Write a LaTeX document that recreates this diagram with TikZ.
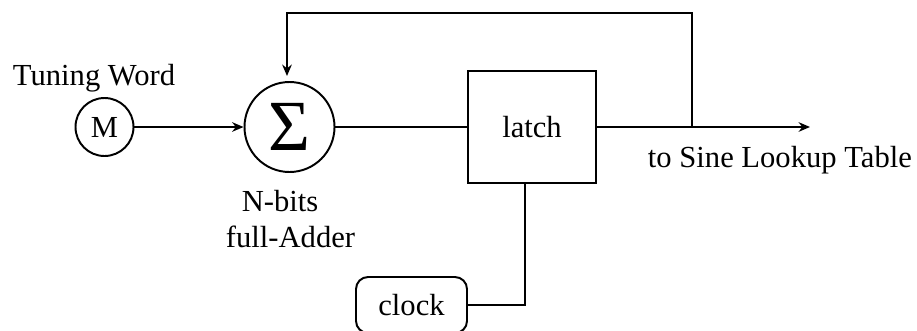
\documentclass[tikz,border=0pt]{standalone}
\usepackage{fontspec}
\setmainfont{Liberation Serif}
\usetikzlibrary{arrows.meta}
\begin{document}
\begin{tikzpicture}[x=0.33333pt,y=-0.33333pt,
  line width=0.65pt,
  font=\fontsize{10.2}{12}\selectfont,
  arr/.style={-{Stealth[length=3.8pt,width=3.2pt]}},
  ring/.style={draw, circle, inner sep=0pt},
  block/.style={draw, rectangle, inner sep=0pt},
  lbl/.style={inner sep=0pt}]
\useasboundingbox (0,0) rectangle (917,330);
\node[ring, minimum size=58*0.33333pt] (M) at (104.5,127) {M};
\node[ring, minimum size=90*0.33333pt] (sum) at (289.5,127) {\fontsize{24}{28}\selectfont Σ};
\node[block, minimum width=128*0.33333pt, minimum height=112*0.33333pt] (latch) at (532,127) {latch};
\node[block, rounded corners=4pt, minimum width=111*0.33333pt, minimum height=56*0.33333pt] (clock) at (411.5,305) {clock};
\node[lbl, anchor=base west] (tw) at (12,85) {Tuning Word};
\node[lbl, anchor=base west] (sine) at (647,167) {to Sine Lookup Table};
\node[lbl, align=center, anchor=base] (adder) at (290.5,247) {N-bits\hspace*{7pt}\\full-Adder};
\coordinate (out) at (810,127);
\coordinate (tap) at (692,127);
\coordinate (fbtip) at (287,76);
\coordinate (clk) at (525,305);
\draw[arr] (M) -- (sum);
\draw (sum) -- (latch);
\draw[arr] (latch) -- (out);
\draw[arr] (tap) -- (692,13) -- (287,13) -- (fbtip);
\draw (clock.east) -- (clk) -- (clk |- latch.south);
\end{tikzpicture}
\end{document}
